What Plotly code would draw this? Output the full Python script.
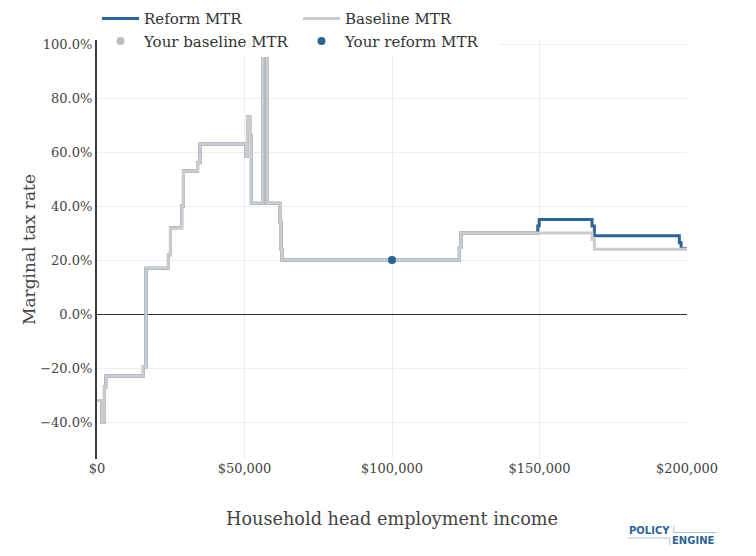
import plotly.graph_objects as go

# marginal tax rate step points (income in $, rate as fraction)
baseline_income = [0, 1700, 2500, 3000, 15700, 16600, 24200, 24900, 28700, 29300,
                   34100, 34900, 50500, 51000, 51800, 52300, 56300, 57600, 62000,
                   62400, 62700, 122800, 123400, 167800, 168600, 200000]
baseline_mtr = [-0.32, -0.40, -0.27, -0.23, -0.195, 0.17, 0.22, 0.32, 0.40, 0.53,
                0.56, 0.63, 0.585, 0.73, 0.66, 0.41, 1.00, 0.41, 0.34,
                0.24, 0.20, 0.246, 0.30, 0.276, 0.24, 0.24]

reform_income = baseline_income[:23] + [149400, 149900, 167800, 168600, 197400, 198000, 200000]
reform_mtr = baseline_mtr[:23] + [0.326, 0.35, 0.326, 0.29, 0.264, 0.242, 0.242]

your_income = [100000]
your_baseline_mtr = [0.20]
your_reform_mtr = [0.20]

BLUE = "#2C6496"
GRAY = "#CCCCCC"
SERIF = "DejaVu Serif"


def main():
    fig = go.Figure()
    fig.add_trace(go.Scatter(x=reform_income, y=reform_mtr, mode="lines",
                             line=dict(color=BLUE, width=3, shape="hv"),
                             name="Reform MTR"))
    fig.add_trace(go.Scatter(x=baseline_income, y=baseline_mtr, mode="lines",
                             line=dict(color=GRAY, width=3, shape="hv"),
                             name="Baseline MTR"))
    fig.add_trace(go.Scatter(x=your_income, y=your_baseline_mtr, mode="markers",
                             marker=dict(color="#BDBDBD", size=8),
                             name="Your baseline MTR"))
    fig.add_trace(go.Scatter(x=your_income, y=your_reform_mtr, mode="markers",
                             marker=dict(color=BLUE, size=8),
                             name="Your reform MTR"))

    # the page body adds an 8px offset, so margins are shifted to compensate
    fig.update_layout(
        width=756, height=556,
        margin=dict(l=89, r=77, t=32, b=105, autoexpand=False),
        plot_bgcolor="white", paper_bgcolor="white",
        font=dict(family=SERIF, size=14, color="#444"),
        legend=dict(orientation="h", x=0, xanchor="left", y=0.959, yanchor="bottom",
                    bgcolor="white", font=dict(family=SERIF, size=15, color="#333"),
                    itemwidth=37, entrywidth=149, entrywidthmode="pixels"),
        xaxis=dict(title=dict(text="Household head employment income",
                              font=dict(family=SERIF, size=17.7), standoff=37),
                   range=[0, 200000], dtick=50000, tickformat="$,.0f",
                   gridcolor="#EEEEEE", zeroline=False,
                   tickfont=dict(family=SERIF, size=13)),
        yaxis=dict(title=dict(text="Marginal tax rate", font=dict(family=SERIF, size=17), standoff=0),
                   range=[-0.537, 1.015], dtick=0.2, tickformat=".1%",
                   gridcolor="#EEEEEE", zeroline=True, zerolinecolor="#333", zerolinewidth=1,
                   showline=True, linecolor="#3a3a3a", linewidth=2,
                   tickfont=dict(family=SERIF, size=13)),
    )

    # PolicyEngine wordmark, bottom right
    fig.add_annotation(text="<b>POLICY</b>", xref="paper", yref="paper",
                       x=0.899, y=-0.1695, xanchor="left", yanchor="middle", showarrow=False,
                       font=dict(family="DejaVu Sans", size=10, color=BLUE))
    fig.add_annotation(text="<b>ENGINE</b>", xref="paper", yref="paper",
                       x=0.972, y=-0.1957, xanchor="left", yanchor="middle", showarrow=False,
                       font=dict(family="DejaVu Sans", size=10, color=BLUE))
    lc = "#A9C1DB"
    fig.add_shape(type="line", xref="paper", yref="paper", x0=0.9775, x1=1.05, y0=-0.1754, y1=-0.1754,
                  line=dict(color=lc, width=1))
    fig.add_shape(type="line", xref="paper", yref="paper", x0=0.9775, x1=0.9775, y0=-0.1754, y1=-0.160,
                  line=dict(color=lc, width=1))
    fig.add_shape(type="line", xref="paper", yref="paper", x0=0.8997, x1=0.9708, y0=-0.1885, y1=-0.1885,
                  line=dict(color=lc, width=1))
    fig.add_shape(type="line", xref="paper", yref="paper", x0=0.9708, x1=0.9708, y0=-0.1885, y1=-0.2053,
                  line=dict(color=lc, width=1))

    fig.write_html("out.html")


if __name__ == "__main__":
    main()
